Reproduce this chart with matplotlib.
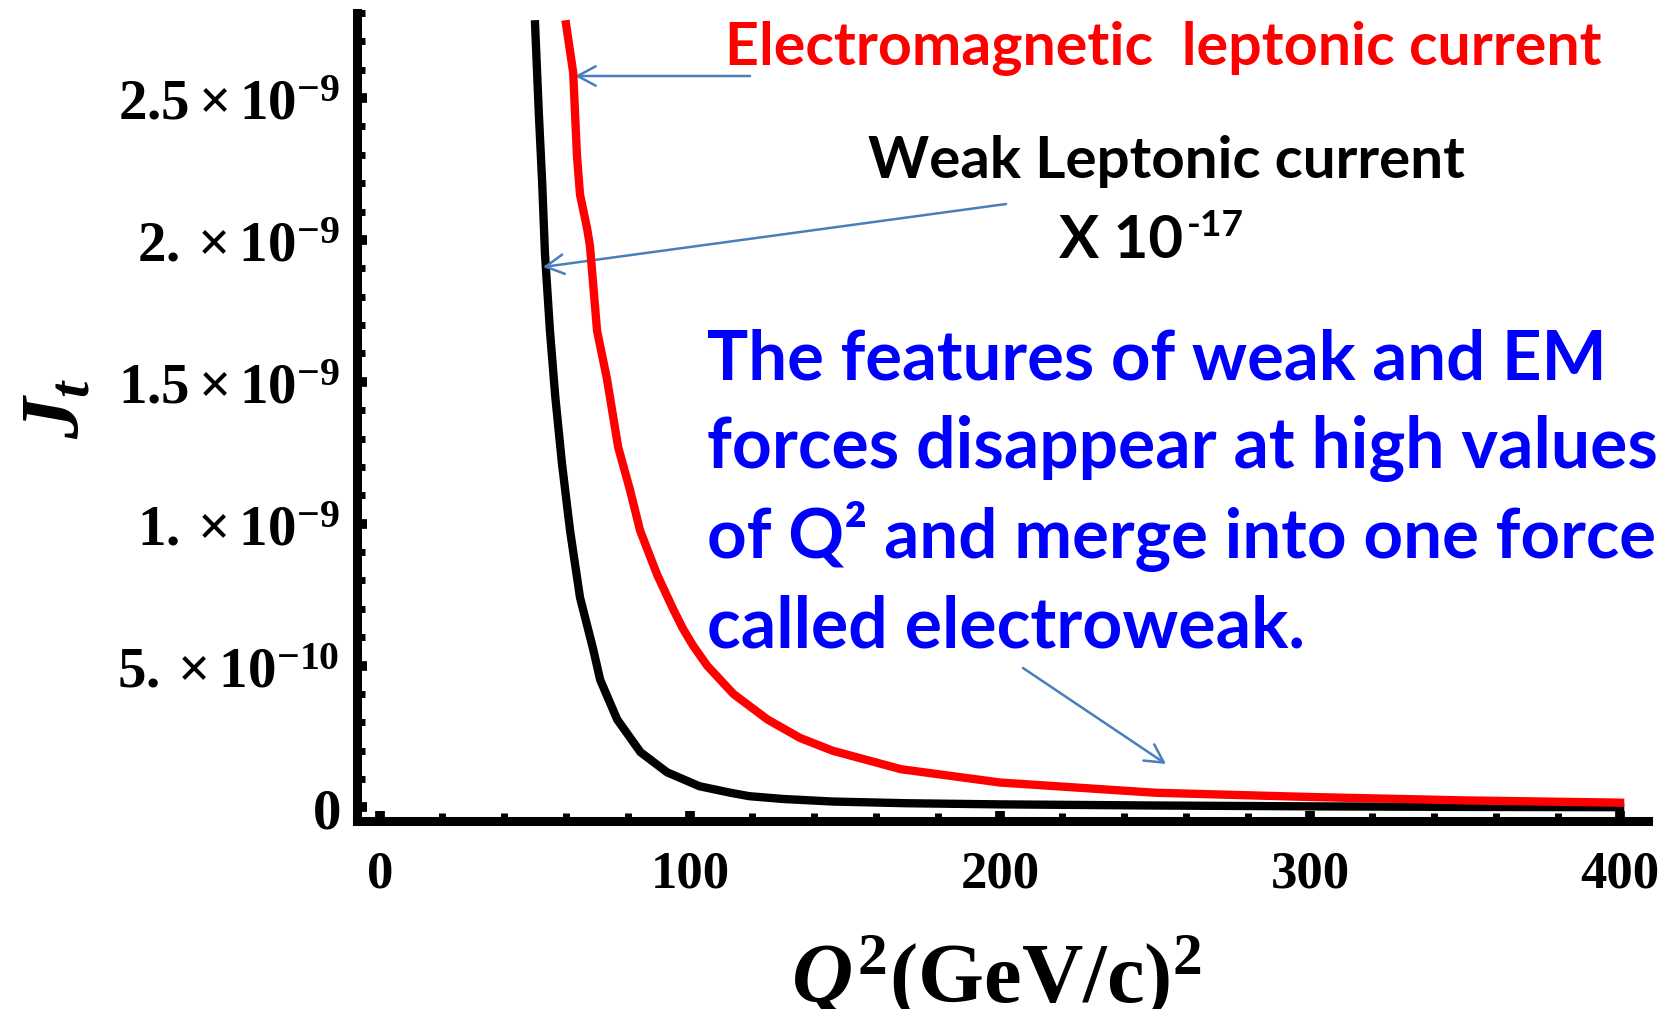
import matplotlib
matplotlib.use('Agg')
import matplotlib.pyplot as plt
import numpy as np
from matplotlib.ticker import FixedLocator, MultipleLocator, FixedFormatter

W, H = 1662, 1009
DPI = 100

plt.rcParams['mathtext.fontset'] = 'custom'
plt.rcParams['mathtext.rm'] = 'Liberation Serif:bold'
plt.rcParams['mathtext.it'] = 'Liberation Serif:bold:italic'
plt.rcParams['mathtext.bf'] = 'Liberation Serif:bold'

SCALE = 1e-9  # curve values below are in units of 1e-9

# Weak leptonic current (x 10^-17)
q2_weak = [50.0, 51.2, 52.3, 53.2, 54.8, 56.5, 58.7, 61.3, 64.5, 68.7, 71.0, 76.5,
           84.0, 92.6, 103, 113, 119, 130, 146, 170, 200, 250, 300, 350, 400]
jt_weak = [2.76, 2.45, 2.20, 1.95, 1.68, 1.45, 1.21, 0.975, 0.74, 0.56, 0.45, 0.31,
           0.195, 0.124, 0.075, 0.052, 0.040, 0.030, 0.021, 0.015, 0.011, 0.007, 0.004, 0.002, 0.001]

# Electromagnetic leptonic current
q2_em = [60.0, 62.3, 63.5, 64.5, 66.8, 67.7, 70.0, 73.2, 76.8, 80.6, 83.9, 89.4, 94.5,
         97.7, 101, 105.5, 114, 125, 135.5, 146, 168, 200, 250, 300, 350, 400]
jt_em = [2.76, 2.59, 2.30, 2.16, 2.04, 1.98, 1.68, 1.51, 1.27, 1.12, 0.975, 0.82, 0.70,
         0.63, 0.57, 0.50, 0.40, 0.31, 0.245, 0.20, 0.135, 0.088, 0.052, 0.037, 0.025, 0.017]

x_ticks = [0, 100, 200, 300, 400]
x_ticklabels = ['0', '100', '200', '300', '400']
y_ticks = [0, 0.5, 1.0, 1.5, 2.0, 2.5]
y_ticklabels = [r'$0$', r'$5.\times10^{-10}$', r'$1.\times10^{-9}$',
                r'$1.5\times10^{-9}$', r'$2.\times10^{-9}$', r'$2.5\times10^{-9}$']

fig = plt.figure(figsize=(W / DPI, H / DPI), dpi=DPI)
left, right = 356.5 / W, 1648 / W
bottom, top = (H - 821) / H, (H - 13) / H
ax = fig.add_axes([left, bottom, right - left, top - bottom])

ax.plot(np.array(q2_weak), np.array(jt_weak) * SCALE, color='black', lw=6, zorder=3,
        solid_joinstyle='round')
ax.plot(np.array(q2_em), np.array(jt_em) * SCALE, color='#FF0000', lw=6, zorder=4,
        solid_joinstyle='round')

ax.set_xlim(-7.6, 409)
ax.set_ylim(-0.0476e-9, 2.80e-9)

for s in ['top', 'right']:
    ax.spines[s].set_visible(False)
for s in ['left', 'bottom']:
    ax.spines[s].set_linewidth(6.5)
    ax.spines[s].set_color('black')

ax.xaxis.set_major_locator(FixedLocator(x_ticks))
ax.xaxis.set_major_formatter(FixedFormatter(x_ticklabels))
ax.xaxis.set_minor_locator(MultipleLocator(20))
ax.yaxis.set_major_locator(FixedLocator([v * SCALE for v in y_ticks]))
ax.yaxis.set_major_formatter(FixedFormatter(y_ticklabels))
ax.yaxis.set_minor_locator(MultipleLocator(0.1e-9))

ax.tick_params(which='major', direction='in', length=7, width=7, color='black')
ax.tick_params(which='minor', direction='in', length=5.5, width=5, color='black')
ax.tick_params(axis='x', which='major', pad=21)
ax.tick_params(axis='y', which='major', pad=12)
for lab in ax.get_xticklabels():
    lab.set_fontfamily('Liberation Serif')
    lab.set_fontweight('bold')
    lab.set_fontsize(38)
for lab in ax.get_yticklabels():
    lab.set_fontsize(41)

# axis labels
fig.text(996 / W, 1 - 1002 / H, r'$Q^2$(GeV/c)$^2$', fontfamily='Liberation Serif',
         fontweight='bold', fontsize=61, ha='center', va='baseline')
fig.text(55 / W, 1 - 408 / H, r'$J_t$', fontsize=60, rotation=90, ha='center', va='center')

SANS = ['Lato', 'Open Sans', 'DejaVu Sans']

fig.canvas.draw()
renderer = fig.canvas.get_renderer()


def fit_text(x, y, s, target_w, **kw):
    t = fig.text(x / W, 1 - y / H, s, fontsize=40, ha='left', va='baseline',
                 fontfamily=SANS, fontweight='bold', **kw)
    w = t.get_window_extent(renderer).width
    t.set_fontsize(40 * target_w / w)
    return t


fit_text(725, 65, 'Electromagnetic  leptonic current', 877, color='#FF0000')
fit_text(868, 178, 'Weak Leptonic current', 596, color='black')
tx = fit_text(1059, 258, 'X 10', 124, color='black')
fs = tx.get_fontsize()
fig.text(1187 / W, 1 - 236 / H, '-17', fontsize=fs * 0.62, ha='left', va='baseline',
         fontfamily=SANS, fontweight='bold', color='black')

blue_lines = ['The features of weak and EM', 'forces disappear at high values',
              'of Q\u00b2 and merge into one force', 'called electroweak.']
blue_base = [380, 468, 558, 647]
blue_w = [899, 949, 949, 597]
for s, b, w in zip(blue_lines, blue_base, blue_w):
    fit_text(707, b, s, w, color='#0000FF')

ARROW = '#4A7EBB'
arrows = [((750, 76), (575, 76)), ((1006, 204), (543, 267)), ((1023, 668), (1166, 764))]
for (tx0, ty0), (hx, hy) in arrows:
    ax.annotate('', xy=(hx, H - hy), xytext=(tx0, H - ty0), xycoords='figure pixels',
                textcoords='figure pixels', annotation_clip=False,
                arrowprops=dict(arrowstyle='->,head_length=0.65,head_width=0.35',
                                color=ARROW, lw=1.8, mutation_scale=20,
                                shrinkA=0, shrinkB=0))

fig.savefig('out.png', dpi=DPI)
